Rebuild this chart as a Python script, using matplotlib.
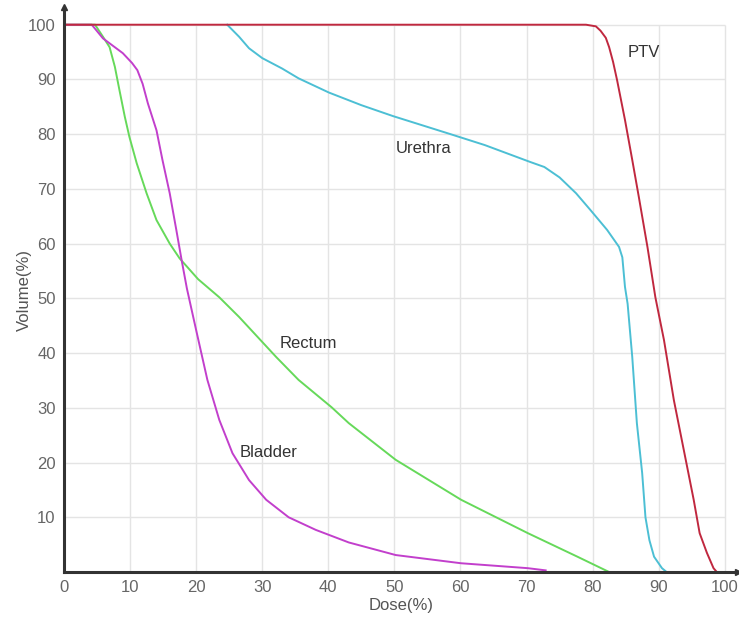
import numpy as np
import matplotlib
matplotlib.use("Agg")
import matplotlib.pyplot as plt

plt.rcParams['font.family'] = ['Liberation Sans', 'DejaVu Sans']

# dose-volume curves (dose %, volume %)
ptv_dose = [0, 79.0, 80.5, 81.2, 82.0, 82.5, 83.1, 83.7, 84.9, 86.0, 87.0, 88.3, 89.5, 90.8, 92.3, 93.8, 95.3, 96.2, 97.3, 98.3, 98.8]
ptv_vol = [100, 100, 99.7, 98.9, 97.6, 95.9, 93.2, 89.9, 82.6, 75.3, 68.5, 59.4, 50.2, 42.4, 31.4, 22.3, 13.2, 7.1, 3.5, 0.7, 0]

urethra_dose = [24.7, 26.5, 28.0, 30.0, 33.0, 35.5, 40.1, 45.0, 49.8, 58.5, 63.7, 70.6, 72.7, 75.0,
                77.5, 79.7, 82.2, 84.0, 84.5, 84.9, 85.3, 86.0, 86.7, 87.5, 88.0, 88.6, 89.3, 90.5, 91.2]
urethra_vol = [100, 97.8, 95.7, 93.9, 92.0, 90.2, 87.6, 85.3, 83.3, 80.0, 78.0, 74.9, 74.0, 72.1,
               69.2, 66.1, 62.5, 59.4, 57.5, 52.1, 49.0, 39.3, 27.2, 18.1, 10.0, 5.8, 2.8, 0.7, 0]

rectum_dose = [0, 4.7, 5.9, 6.9, 7.7, 8.4, 9.2, 9.9, 11.0, 12.5, 14.0, 16.0, 17.5, 20.3, 23.5, 26.5,
               32.1, 35.5, 40.5, 43.1, 50.2, 60.1, 70.2, 77.7, 82.5]
rectum_vol = [100, 100, 97.8, 95.9, 92.3, 88.0, 83.2, 79.5, 74.7, 69.2, 64.3, 60.0, 57.3, 53.5, 50.2, 46.6,
              39.3, 35.1, 30.1, 27.2, 20.5, 13.2, 7.1, 2.8, 0]

bladder_dose = [0, 4.2, 5.9, 6.9, 8.9, 10.3, 11.1, 11.9, 12.7, 14.0, 14.9, 16.0, 17.0, 17.8, 18.6, 20.0, 21.7, 23.5,
                25.5, 28.0, 30.6, 34.0, 38.1, 43.1, 50.2, 60.1, 70.2, 72.9]
bladder_vol = [100, 100, 97.5, 96.6, 94.8, 93.0, 91.7, 89.2, 85.6, 80.7, 75.3, 69.2, 62.5, 57.0, 51.8, 44.2, 35.1, 27.8,
               21.7, 16.8, 13.2, 10.0, 7.7, 5.4, 3.1, 1.6, 0.7, 0.3]

x_ticks = [0, 10, 20, 30, 40, 50, 60, 70, 80, 90, 100]
y_ticks = [10, 20, 30, 40, 50, 60, 70, 80, 90, 100]

fig = plt.figure(figsize=(7.39, 6.2), dpi=100)
ax = fig.add_axes([0.0866, 0.0774, 0.912, 0.911])

# grid bounded to the 0-100 box
ax.vlines(x_ticks[1:], 0, 100, color='#e4e4e4', lw=1, zorder=0)
ax.hlines(y_ticks, 0, 100, color='#e4e4e4', lw=1, zorder=0)

ax.plot(rectum_dose, rectum_vol, color='#66d95a', lw=1.4)
ax.plot(bladder_dose, bladder_vol, color='#c23fcc', lw=1.4)
ax.plot(urethra_dose, urethra_vol, color='#4cbfd4', lw=1.4)
ax.plot(ptv_dose, ptv_vol, color='#c0283f', lw=1.4)

txt = dict(fontsize=12, color='#333333', ha='center', va='center')
ax.text(87.8, 95.0, 'PTV', **txt)
ax.text(54.4, 77.4, 'Urethra', **txt)
ax.text(37.0, 41.8, 'Rectum', **txt)
ax.text(31.0, 21.9, 'Bladder', **txt)

ax.set_xlim(0, 102)
ax.set_ylim(0, 103.2)
ax.set_xticks(x_ticks)
ax.set_yticks(y_ticks)
ax.tick_params(length=0, labelsize=12, labelcolor='#666666', pad=6)

for side in ['top', 'right']:
    ax.spines[side].set_visible(False)
for side in ['left', 'bottom']:
    ax.spines[side].set_color('#333333')
    ax.spines[side].set_linewidth(2.2)

# axis arrow heads
ax.plot(0, 1, marker='^', ms=5, color='#333333', transform=ax.transAxes, clip_on=False)
ax.plot(1, 0, marker='>', ms=5, color='#333333', transform=ax.transAxes, clip_on=False)

ax.set_xlabel('Dose(%)', fontsize=12, color='#555555', labelpad=2)
ax.set_ylabel('Volume(%)', fontsize=12, color='#555555', labelpad=-3)

fig.savefig('out.png', dpi=100)
